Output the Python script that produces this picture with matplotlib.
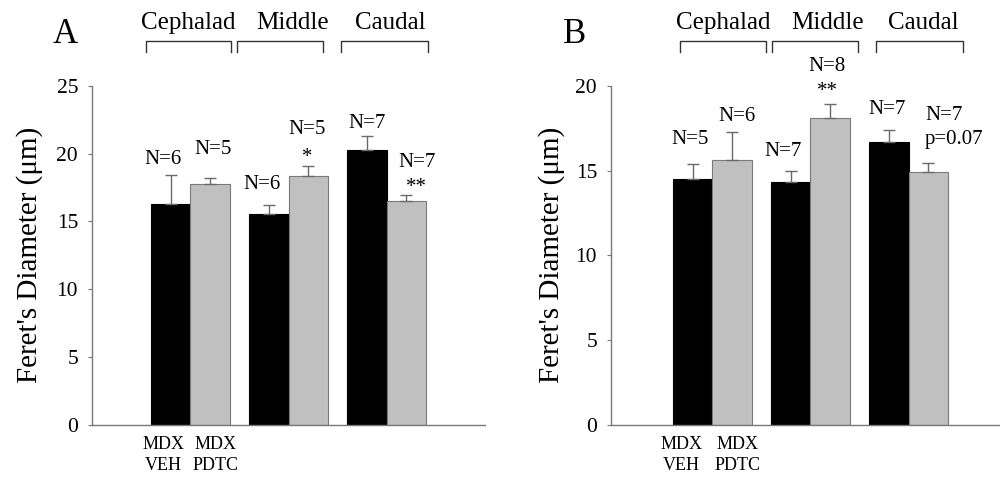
import numpy as np
import matplotlib
matplotlib.use("Agg")
import matplotlib.pyplot as plt

plt.rcParams['font.family'] = ['Liberation Serif', 'DejaVu Serif']

# data
groups = ['Cephalad', 'Middle', 'Caudal']
treatments = ['MDX\nVEH', 'MDX\nPDTC']

a_veh = [16.26, 15.52, 20.29]
a_veh_se = [2.15, 0.70, 1.00]
a_pdtc = [17.73, 18.32, 16.50]
a_pdtc_se = [0.45, 0.80, 0.42]
a_n_veh = ['N=6', 'N=6', 'N=7']
a_n_pdtc = ['N=5', 'N=5', 'N=7']
a_sig_pdtc = ['', '*', '**']

b_veh = [14.50, 14.30, 16.70]
b_veh_se = [0.86, 0.70, 0.67]
b_pdtc = [15.60, 18.10, 14.90]
b_pdtc_se = [1.68, 0.80, 0.56]
b_n_veh = ['N=5', 'N=7', 'N=7']
b_n_pdtc = ['N=6', 'N=8', 'N=7']
b_sig_pdtc = ['', '**', 'p=0.07']

BAR_W = 0.4
GRAY = '#c0c0c0'
EDGE = '#7a7a7a'
ERR = '#6a6a6a'


def draw_panel(ax, veh, veh_se, pdtc, pdtc_se, ymax, xleft, layout):
    x = np.arange(len(groups))
    ax.bar(x - BAR_W / 2, veh, BAR_W, color='black', edgecolor='black', lw=0.8)
    ax.bar(x + BAR_W / 2, pdtc, BAR_W, color=GRAY, edgecolor=EDGE, lw=0.8)
    ax.errorbar(x - BAR_W / 2, veh, yerr=[np.zeros(3), veh_se], fmt='none',
                ecolor=ERR, elinewidth=1, capsize=4, capthick=1)
    ax.errorbar(x + BAR_W / 2, pdtc, yerr=[np.zeros(3), pdtc_se], fmt='none',
                ecolor=ERR, elinewidth=1, capsize=4, capthick=1)

    ax.set_xlim(xleft, 3.0)
    ax.set_ylim(0, ymax)
    ax.set_yticks(np.arange(0, ymax + 1, 5))
    ax.set_xticks([])
    for s in ['top', 'right']:
        ax.spines[s].set_visible(False)
    for s in ['left', 'bottom']:
        ax.spines[s].set_color('#777777')
        ax.spines[s].set_linewidth(1.0)
    ax.tick_params(axis='y', direction='out', length=3, color='#777777',
                   labelsize=15.5, pad=7)
    ax.set_ylabel("Feret's Diameter (\u03bcm)", fontsize=21)

    # region brackets and names
    tr = ax.get_xaxis_transform()
    for name, (x0, x1), xc in zip(groups, layout['brackets'], layout['group_x']):
        ax.plot([x0, x0, x1, x1], [1.098, 1.131, 1.131, 1.098], color='#333333',
                lw=1.0, transform=tr, clip_on=False)
        ax.text(xc, 1.186, name, transform=tr, ha='center', va='center',
                fontsize=18)

    # N and significance labels
    for txt, (tx, ty) in zip(layout['texts'], layout['text_pos']):
        if txt:
            ax.text(tx, ty, txt, ha='center', va='center', fontsize=15)

    for lab, tx in zip(treatments, layout['treat_x']):
        ax.text(tx, -0.088, lab, transform=tr, ha='center', va='center',
                fontsize=13, linespacing=1.3)


fig = plt.figure(figsize=(10, 4.79), dpi=100)
axA = fig.add_axes([0.092, 0.1127, 0.393, 0.7084])
axB = fig.add_axes([0.611, 0.1127, 0.396, 0.7084])

layoutA = {
    'brackets': [(-0.452, 0.418), (0.480, 1.354), (1.538, 2.421)],
    'group_x': [-0.02, 1.04, 2.04],
    'texts': a_n_veh + a_n_pdtc + a_sig_pdtc,
    'text_pos': [(-0.276, 19.53), (0.73, 17.69), (1.80, 22.25),
                 (0.235, 20.27), (1.19, 21.8), (2.31, 19.31),
                 (0, 0), (1.19, 19.7), (2.30, 17.5)],
    'treat_x': [-0.272, 0.255],
}
layoutB = {
    'brackets': [(-0.326, 0.549), (0.610, 1.483), (1.671, 2.549)],
    'group_x': [0.113, 1.17, 2.15],
    'texts': b_n_veh + b_n_pdtc + b_sig_pdtc,
    'text_pos': [(-0.224, 16.84), (0.725, 16.15), (1.783, 18.62),
                 (0.256, 18.21), (1.171, 21.15), (2.358, 18.27),
                 (0, 0), (1.17, 19.65), (2.46, 16.84)],
    'treat_x': [-0.31, 0.253],
}

draw_panel(axA, a_veh, a_veh_se, a_pdtc, a_pdtc_se, 25, -1.0, layoutA)
draw_panel(axB, b_veh, b_veh_se, b_pdtc, b_pdtc_se, 20, -1.03, layoutB)
axA.yaxis.set_label_coords(-0.125, 0.5)
axB.yaxis.set_label_coords(-0.116, 0.5)

fig.text(0.065, 0.927, 'A', fontsize=25, ha='center', va='center')
fig.text(0.575, 0.927, 'B', fontsize=25, ha='center', va='center')

fig.savefig('out.png', dpi=100)
